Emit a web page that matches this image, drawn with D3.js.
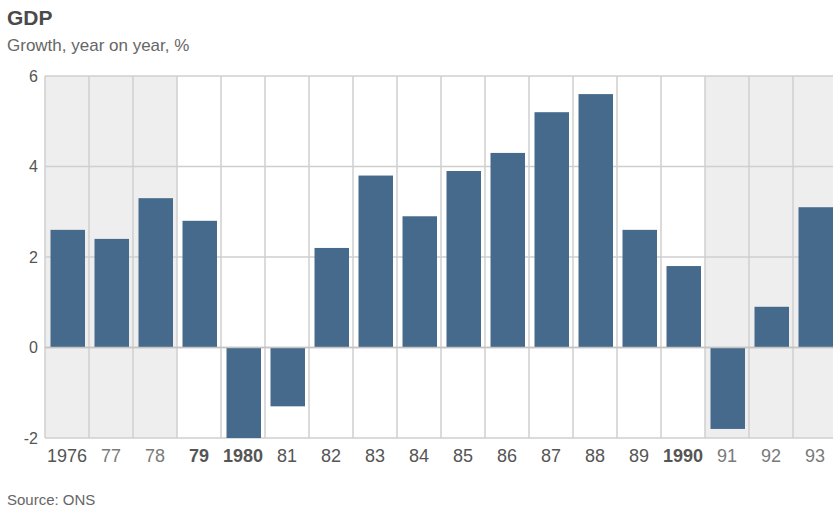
<!DOCTYPE html>
<html>
<head>
<meta charset="utf-8">
<script src="https://cdn.jsdelivr.net/npm/d3@7"></script>
<style>
  body { margin: 0; background: #fff; }
  svg { display: block; font-family: Arial, "Liberation Sans", Helvetica, sans-serif; }
</style>
</head>
<body>
<div id="chart"></div>
<script>
var years = [1976, 1977, 1978, 1979, 1980, 1981, 1982, 1983, 1984, 1985, 1986, 1987, 1988, 1989, 1990, 1991, 1992, 1993];
var yearLabels = ["1976", "77", "78", "79", "1980", "81", "82", "83", "84", "85", "86", "87", "88", "89", "1990", "91", "92", "93"];
var growth = [2.6, 2.4, 3.3, 2.8, -2.0, -1.3, 2.2, 3.8, 2.9, 3.9, 4.3, 5.2, 5.6, 2.6, 1.8, -1.8, 0.9, 3.1];
var shadedYears = [1976, 1977, 1978, 1991, 1992, 1993];
var boldYears = [1979, 1980, 1990];
var yTicks = [-2, 0, 2, 4, 6];

var chartWidth = 833, chartHeight = 508;

var svg = d3.select("#chart").append("svg")
    .attr("width", chartWidth)
    .attr("height", chartHeight);

var x = d3.scaleBand().domain(years).range([45, 837]).paddingInner(0).paddingOuter(0);
var y = d3.scaleLinear().domain([-2, 6]).range([438, 76]);

// shaded bands
svg.selectAll(".shade")
  .data(shadedYears)
  .enter().append("rect")
    .attr("class", "shade")
    .attr("x", function(d) { return x(d); })
    .attr("y", y(6))
    .attr("width", x.bandwidth())
    .attr("height", y(-2) - y(6))
    .attr("fill", "#eeeeee");

// horizontal grid
svg.selectAll(".hgrid")
  .data(yTicks)
  .enter().append("line")
    .attr("class", "hgrid")
    .attr("x1", 45)
    .attr("x2", chartWidth)
    .attr("y1", function(d) { return y(d); })
    .attr("y2", function(d) { return y(d); })
    .attr("stroke", "#cfcfcf")
    .attr("stroke-width", 1.5);

// vertical grid
svg.selectAll(".vgrid")
  .data(years)
  .enter().append("line")
    .attr("class", "vgrid")
    .attr("x1", function(d) { return x(d); })
    .attr("x2", function(d) { return x(d); })
    .attr("y1", y(6))
    .attr("y2", y(-2))
    .attr("stroke", "#cfcfcf")
    .attr("stroke-width", 1.5);

// bars
svg.append("clipPath").attr("id", "plotclip")
  .append("rect")
    .attr("x", 45).attr("y", y(6))
    .attr("width", chartWidth - 45).attr("height", y(-2) - y(6));

svg.append("g").attr("clip-path", "url(#plotclip)")
  .selectAll(".bar")
  .data(years)
  .enter().append("rect")
    .attr("class", "bar")
    .attr("x", function(d) { return x(d) + 5.5; })
    .attr("width", x.bandwidth() - 9.5)
    .attr("y", function(d, i) { return y(Math.max(0, growth[i])); })
    .attr("height", function(d, i) { return Math.abs(y(growth[i]) - y(0)); })
    .attr("fill", "#466a8b");

// zero line over bars
svg.append("line")
    .attr("x1", 45).attr("x2", chartWidth)
    .attr("y1", y(0)).attr("y2", y(0))
    .attr("stroke", "#c4c4c4")
    .attr("stroke-width", 1.5);

// y tick labels
svg.selectAll(".ytick")
  .data(yTicks)
  .enter().append("text")
    .attr("class", "ytick")
    .attr("x", 38)
    .attr("y", function(d) { return y(d); })
    .attr("dy", "0.35em")
    .attr("text-anchor", "end")
    .attr("font-size", 16)
    .attr("fill", "#555")
    .text(function(d) { return d; });

// x labels
svg.selectAll(".xlabel")
  .data(years)
  .enter().append("text")
    .attr("class", "xlabel")
    .attr("x", function(d) { return x(d) + x.bandwidth() / 2; })
    .attr("y", 462)
    .attr("text-anchor", "middle")
    .attr("font-size", 18)
    .attr("font-weight", function(d) { return boldYears.indexOf(d) >= 0 ? "bold" : "normal"; })
    .attr("fill", function(d) { return shadedYears.indexOf(d) >= 0 && d !== 1976 ? "#7a7a7a" : "#555"; })
    .text(function(d, i) { return yearLabels[i]; });

svg.append("text")
    .attr("x", 7).attr("y", 25)
    .attr("font-size", 21).attr("font-weight", "bold")
    .attr("fill", "#4a4a4a")
    .text("GDP");

svg.append("text")
    .attr("x", 7).attr("y", 51)
    .attr("font-size", 17)
    .attr("fill", "#666")
    .text("Growth, year on year, %");

svg.append("text")
    .attr("x", 7).attr("y", 505)
    .attr("font-size", 15)
    .attr("fill", "#666")
    .text("Source: ONS");
</script>
</body>
</html>
